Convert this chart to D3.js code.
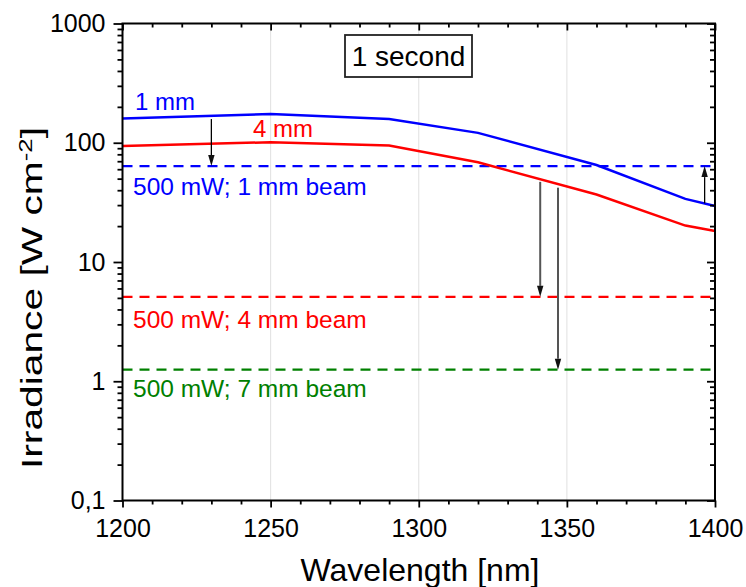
<!DOCTYPE html>
<html>
<head>
<meta charset="utf-8">
<script src="https://cdn.jsdelivr.net/npm/d3@7"></script>
<style>
  body { margin: 0; background: #fff; }
  svg { font-family: "Liberation Sans", Arial, sans-serif; }
  .axis path.domain { display: none; }
  .axis line { stroke: #000; stroke-width: 1.8; }
  .axis text { font-size: 25px; fill: #000; }
</style>
</head>
<body>
<svg id="chart" width="746" height="587"></svg>
<script>
var wavelengths = [1200, 1250, 1290, 1320, 1360, 1390, 1400];
var irr1mm = [160, 174, 158, 121, 65, 33.8, 29.5];
var irr4mm = [94, 101, 95, 68.6, 36.8, 20.2, 18.2];

// 500 mW levels for 1, 4, 7 mm beams
var beamLevels = [63.7, 5.1, 1.25];
var beamLabels = ['500 mW; 1 mm beam', '500 mW; 4 mm beam', '500 mW; 7 mm beam'];

// arrows: wavelength, start value, end value
var arrowX = [1230, 1341, 1347, 1396.5];
var arrowFrom = [158, 47, 42, 31];
var arrowTo = [63.7, 5.1, 1.25, 63.7];

var xMajor = [1200, 1250, 1300, 1350, 1400];
var yMajor = [0.1, 1, 10, 100, 1000];
var yTickLabels = ['0,1', '1', '10', '100', '1000'];

var blue = '#0000ff', red = '#ff0000', green = '#008000';
var beamColors = [blue, red, green];

var svg = d3.select('#chart');
var x = d3.scaleLinear().domain([1200, 1400]).range([122.5, 715]);
var y = d3.scaleLog().domain([0.1, 1000]).range([500.5, 23.5]);

var xMinor = d3.range(1210, 1400, 10).filter(function (d) { return d % 50 !== 0; });
var yMinor = [];
[0.1, 1, 10, 100].forEach(function (p) {
  for (var k = 2; k <= 9; k++) yMinor.push(p * k);
});

// vertical grid
svg.append('g').selectAll('line')
  .data(xMajor.slice(1, -1))
  .enter().append('line')
  .attr('x1', function (d) { return x(d); })
  .attr('x2', function (d) { return x(d); })
  .attr('y1', y(1000)).attr('y2', y(0.1))
  .attr('stroke', '#e0e0e0').attr('stroke-width', 1);

// dashed beam levels
svg.append('g').selectAll('line')
  .data(beamLevels)
  .enter().append('line')
  .attr('x1', x(1200)).attr('x2', x(1400))
  .attr('y1', function (d) { return y(d); })
  .attr('y2', function (d) { return y(d); })
  .attr('stroke', function (d, i) { return beamColors[i]; })
  .attr('stroke-width', 2.2)
  .attr('stroke-dasharray', '10,7');

var line = d3.line()
  .x(function (d, i) { return x(wavelengths[i]); })
  .y(function (d) { return y(d); });

[[irr4mm, red], [irr1mm, blue]].forEach(function (s) {
  svg.append('path')
    .attr('d', line(s[0]))
    .attr('fill', 'none')
    .attr('stroke', s[1])
    .attr('stroke-width', 2.5);
});

// arrows
arrowX.forEach(function (w, i) {
  var px = x(w), y0 = y(arrowFrom[i]), y1 = y(arrowTo[i]);
  var dir = y1 > y0 ? 1 : -1;
  var headLen = 11, headW = 3.2;
  var col = (i === 1 || i === 2) ? '#555' : '#000';
  var sw = (i === 1 || i === 2) ? 2 : 1.3;
  svg.append('line')
    .attr('x1', px).attr('x2', px)
    .attr('y1', y0).attr('y2', y1 - dir * headLen)
    .attr('stroke', col).attr('stroke-width', sw);
  svg.append('path')
    .attr('d', 'M' + px + ',' + y1 +
      'L' + (px - headW) + ',' + (y1 - dir * headLen) +
      'L' + (px + headW) + ',' + (y1 - dir * headLen) + 'Z')
    .attr('fill', '#111');
});

// axes
svg.append('g').attr('class', 'axis')
  .attr('transform', 'translate(0,' + y(0.1) + ')')
  .call(d3.axisBottom(x).tickValues(xMajor).tickSize(7).tickPadding(12).tickFormat(d3.format('d')));
svg.append('g').attr('class', 'axis')
  .attr('transform', 'translate(0,' + y(0.1) + ')')
  .call(d3.axisBottom(x).tickValues(xMinor).tickSize(4).tickFormat(''));
svg.append('g').attr('class', 'axis')
  .attr('transform', 'translate(0,' + y(1000) + ')')
  .call(d3.axisTop(x).tickValues(xMajor).tickSize(-7).tickFormat(''));
svg.append('g').attr('class', 'axis')
  .attr('transform', 'translate(0,' + y(1000) + ')')
  .call(d3.axisTop(x).tickValues(xMinor).tickSize(-4).tickFormat(''));

svg.append('g').attr('class', 'axis')
  .attr('transform', 'translate(' + x(1200) + ',0)')
  .call(d3.axisLeft(y).tickValues(yMajor).tickSize(9).tickPadding(8)
    .tickFormat(function (d, i) { return yTickLabels[i]; }));
svg.append('g').attr('class', 'axis')
  .attr('transform', 'translate(' + x(1200) + ',0)')
  .call(d3.axisLeft(y).tickValues(yMinor).tickSize(5).tickFormat(''));
svg.append('g').attr('class', 'axis')
  .attr('transform', 'translate(' + x(1400) + ',0)')
  .call(d3.axisRight(y).tickValues(yMajor).tickSize(-8).tickFormat(''));
svg.append('g').attr('class', 'axis')
  .attr('transform', 'translate(' + x(1400) + ',0)')
  .call(d3.axisRight(y).tickValues(yMinor).tickSize(-5).tickFormat(''));

// frame
svg.append('rect')
  .attr('x', x(1200)).attr('y', y(1000))
  .attr('width', x(1400) - x(1200)).attr('height', y(0.1) - y(1000))
  .attr('fill', 'none').attr('stroke', '#000').attr('stroke-width', 2);

// axis titles
svg.append('text')
  .attr('x', 420).attr('y', 581)
  .attr('text-anchor', 'middle')
  .style('font-size', '32px')
  .text('Wavelength [nm]');

var yt = svg.append('text')
  .attr('transform', 'translate(42,298) rotate(-90)')
  .attr('text-anchor', 'middle')
  .attr('textLength', 342)
  .attr('lengthAdjust', 'spacingAndGlyphs')
  .style('font-size', '30px');
yt.append('tspan').text('Irradiance [W cm');
yt.append('tspan').attr('dy', '-0.55em').style('font-size', '19px').text('-2');
yt.append('tspan').attr('dy', '0.35em').text(']');

// curve labels
svg.append('text').attr('x', 135).attr('y', 110)
  .style('font-size', '24px').attr('fill', blue).text('1 mm');
svg.append('text').attr('x', 253).attr('y', 137)
  .style('font-size', '24px').attr('fill', red).text('4 mm');

var labelBase = [195, 328, 397];
beamLabels.forEach(function (t, i) {
  svg.append('text').attr('x', 133).attr('y', labelBase[i])
    .style('font-size', '24.5px').attr('fill', beamColors[i]).text(t);
});

// "1 second" box
svg.append('rect')
  .attr('x', 345).attr('y', 35).attr('width', 127).attr('height', 42)
  .attr('fill', '#fff').attr('stroke', '#222').attr('stroke-width', 1.8);
svg.append('text').attr('x', 408.5).attr('y', 66)
  .attr('text-anchor', 'middle')
  .style('font-size', '28px').text('1 second');
</script>
</body>
</html>
